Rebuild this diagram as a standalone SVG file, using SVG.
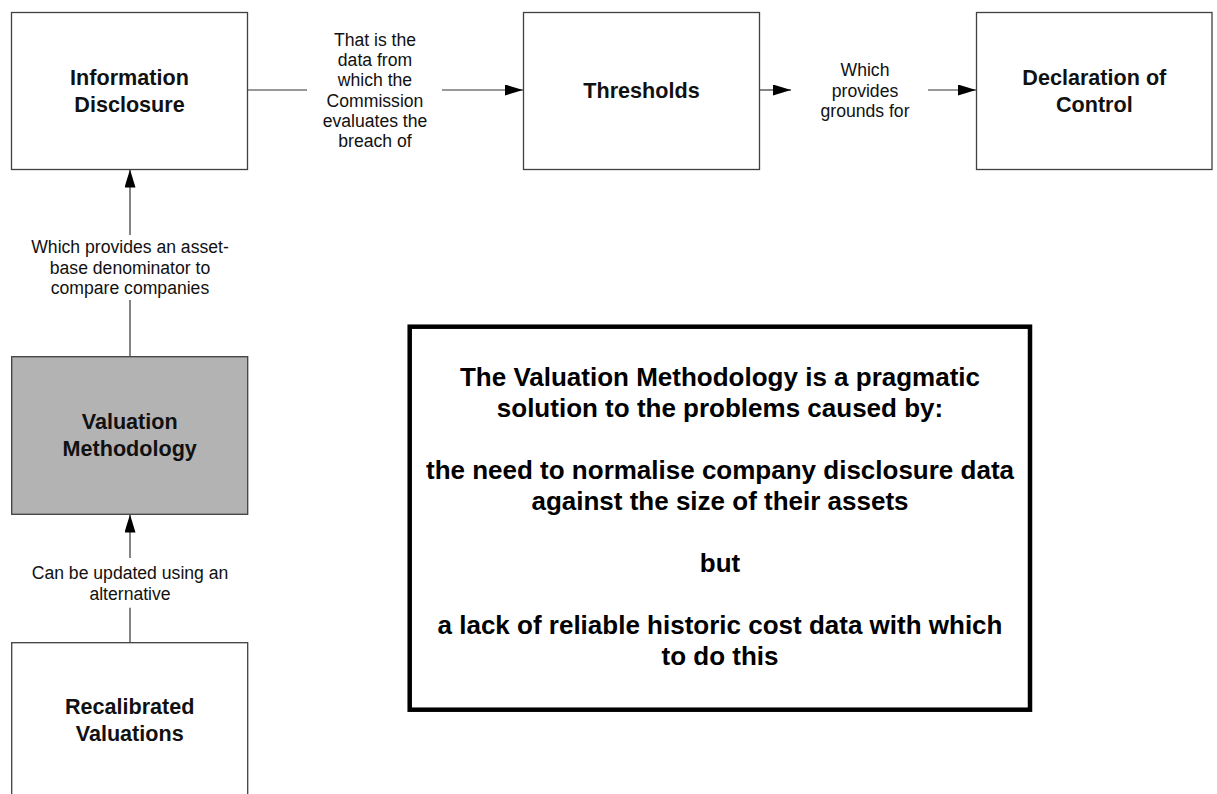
<svg xmlns="http://www.w3.org/2000/svg" width="1217" height="794" viewBox="0 0 1217 794">
<style>
.box{fill:#ffffff;stroke:#404040;stroke-width:1.3}
.gray{fill:#b3b3b3;stroke:#404040;stroke-width:1.3}
.big{fill:#ffffff;stroke:#000000;stroke-width:4.5}
.nt{font-family:"Liberation Sans",Arial,sans-serif;font-weight:bold;font-size:21.6px;fill:#111;text-anchor:middle}
.lt{font-family:"Liberation Sans",Arial,sans-serif;font-size:17.6px;fill:#111;text-anchor:middle}
.bt{font-family:"Liberation Sans",Arial,sans-serif;font-weight:bold;font-size:26px;fill:#000;text-anchor:middle}
.c{fill:none;stroke:#333;stroke-width:1.2}
</style>
<defs>
<marker id="arr" markerUnits="userSpaceOnUse" markerWidth="18" markerHeight="11" refX="18" refY="5.5" orient="auto">
<path d="M0,0 L18,5.5 L0,11 z" fill="#000"/>
</marker>
</defs>
<rect width="1217" height="794" fill="#ffffff"/>
<g id="connectors">
<path class="c" d="M248,90 H307"/>
<path class="c" d="M442,90 H523" marker-end="url(#arr)"/>
<text class="lt"><tspan x="375" y="45.6">That is the</tspan><tspan x="375" y="65.9">data from</tspan><tspan x="375" y="86.2">which the</tspan><tspan x="375" y="106.5">Commission</tspan><tspan x="375" y="126.8">evaluates the</tspan><tspan x="375" y="147.1">breach of</tspan></text>
<path class="c" d="M759,90 H791" marker-end="url(#arr)"/>
<path class="c" d="M928,90 H976" marker-end="url(#arr)"/>
<text class="lt"><tspan x="865" y="76.3">Which</tspan><tspan x="865" y="96.6">provides</tspan><tspan x="865" y="116.9">grounds for</tspan></text>
<path class="c" d="M130,300 V356.7"/>
<path class="c" d="M130,235 V169.5" marker-end="url(#arr)"/>
<text class="lt"><tspan x="130" y="253">Which provides an asset-</tspan><tspan x="130" y="273.6">base denominator to</tspan><tspan x="130" y="294">compare companies</tspan></text>
<path class="c" d="M130,607.7 V642.7"/>
<path class="c" d="M130,558 V514.5" marker-end="url(#arr)"/>
<text class="lt"><tspan x="130" y="579">Can be updated using an</tspan><tspan x="130" y="599.6">alternative</tspan></text>
</g>
<g id="info-disclosure">
<rect class="box" x="11.5" y="12.5" width="236" height="157"/>
<text class="nt"><tspan x="129.5" y="85.4">Information</tspan><tspan x="129.5" y="112">Disclosure</tspan></text>
</g>
<g id="thresholds">
<rect class="box" x="523.5" y="12.5" width="236" height="157"/>
<text class="nt" x="641.5" y="97.7">Thresholds</text>
</g>
<g id="declaration-of-control">
<rect class="box" x="976.5" y="12.5" width="235.5" height="157"/>
<text class="nt"><tspan x="1094.3" y="85.4">Declaration of</tspan><tspan x="1094.3" y="112">Control</tspan></text>
</g>
<g id="valuation-methodology">
<rect class="gray" x="11.7" y="356.7" width="236" height="157.6"/>
<text class="nt"><tspan x="129.7" y="429.4">Valuation</tspan><tspan x="129.7" y="456">Methodology</tspan></text>
</g>
<g id="recalibrated-valuations">
<rect class="box" x="11.7" y="642.7" width="236" height="157.6"/>
<text class="nt"><tspan x="129.7" y="714.4">Recalibrated</tspan><tspan x="129.7" y="741">Valuations</tspan></text>
</g>
<g id="summary-note">
<rect class="big" x="409.7" y="326.7" width="620.3" height="383"/>
<text class="bt"><tspan x="720" y="386">The Valuation Methodology is a pragmatic</tspan><tspan x="720" y="417">solution to the problems caused by:</tspan><tspan x="720" y="479">the need to normalise company disclosure data</tspan><tspan x="720" y="510">against the size of their assets</tspan><tspan x="720" y="572">but</tspan><tspan x="720" y="634">a lack of reliable historic cost data with which</tspan><tspan x="720" y="665">to do this</tspan></text>
</g>
</svg>
